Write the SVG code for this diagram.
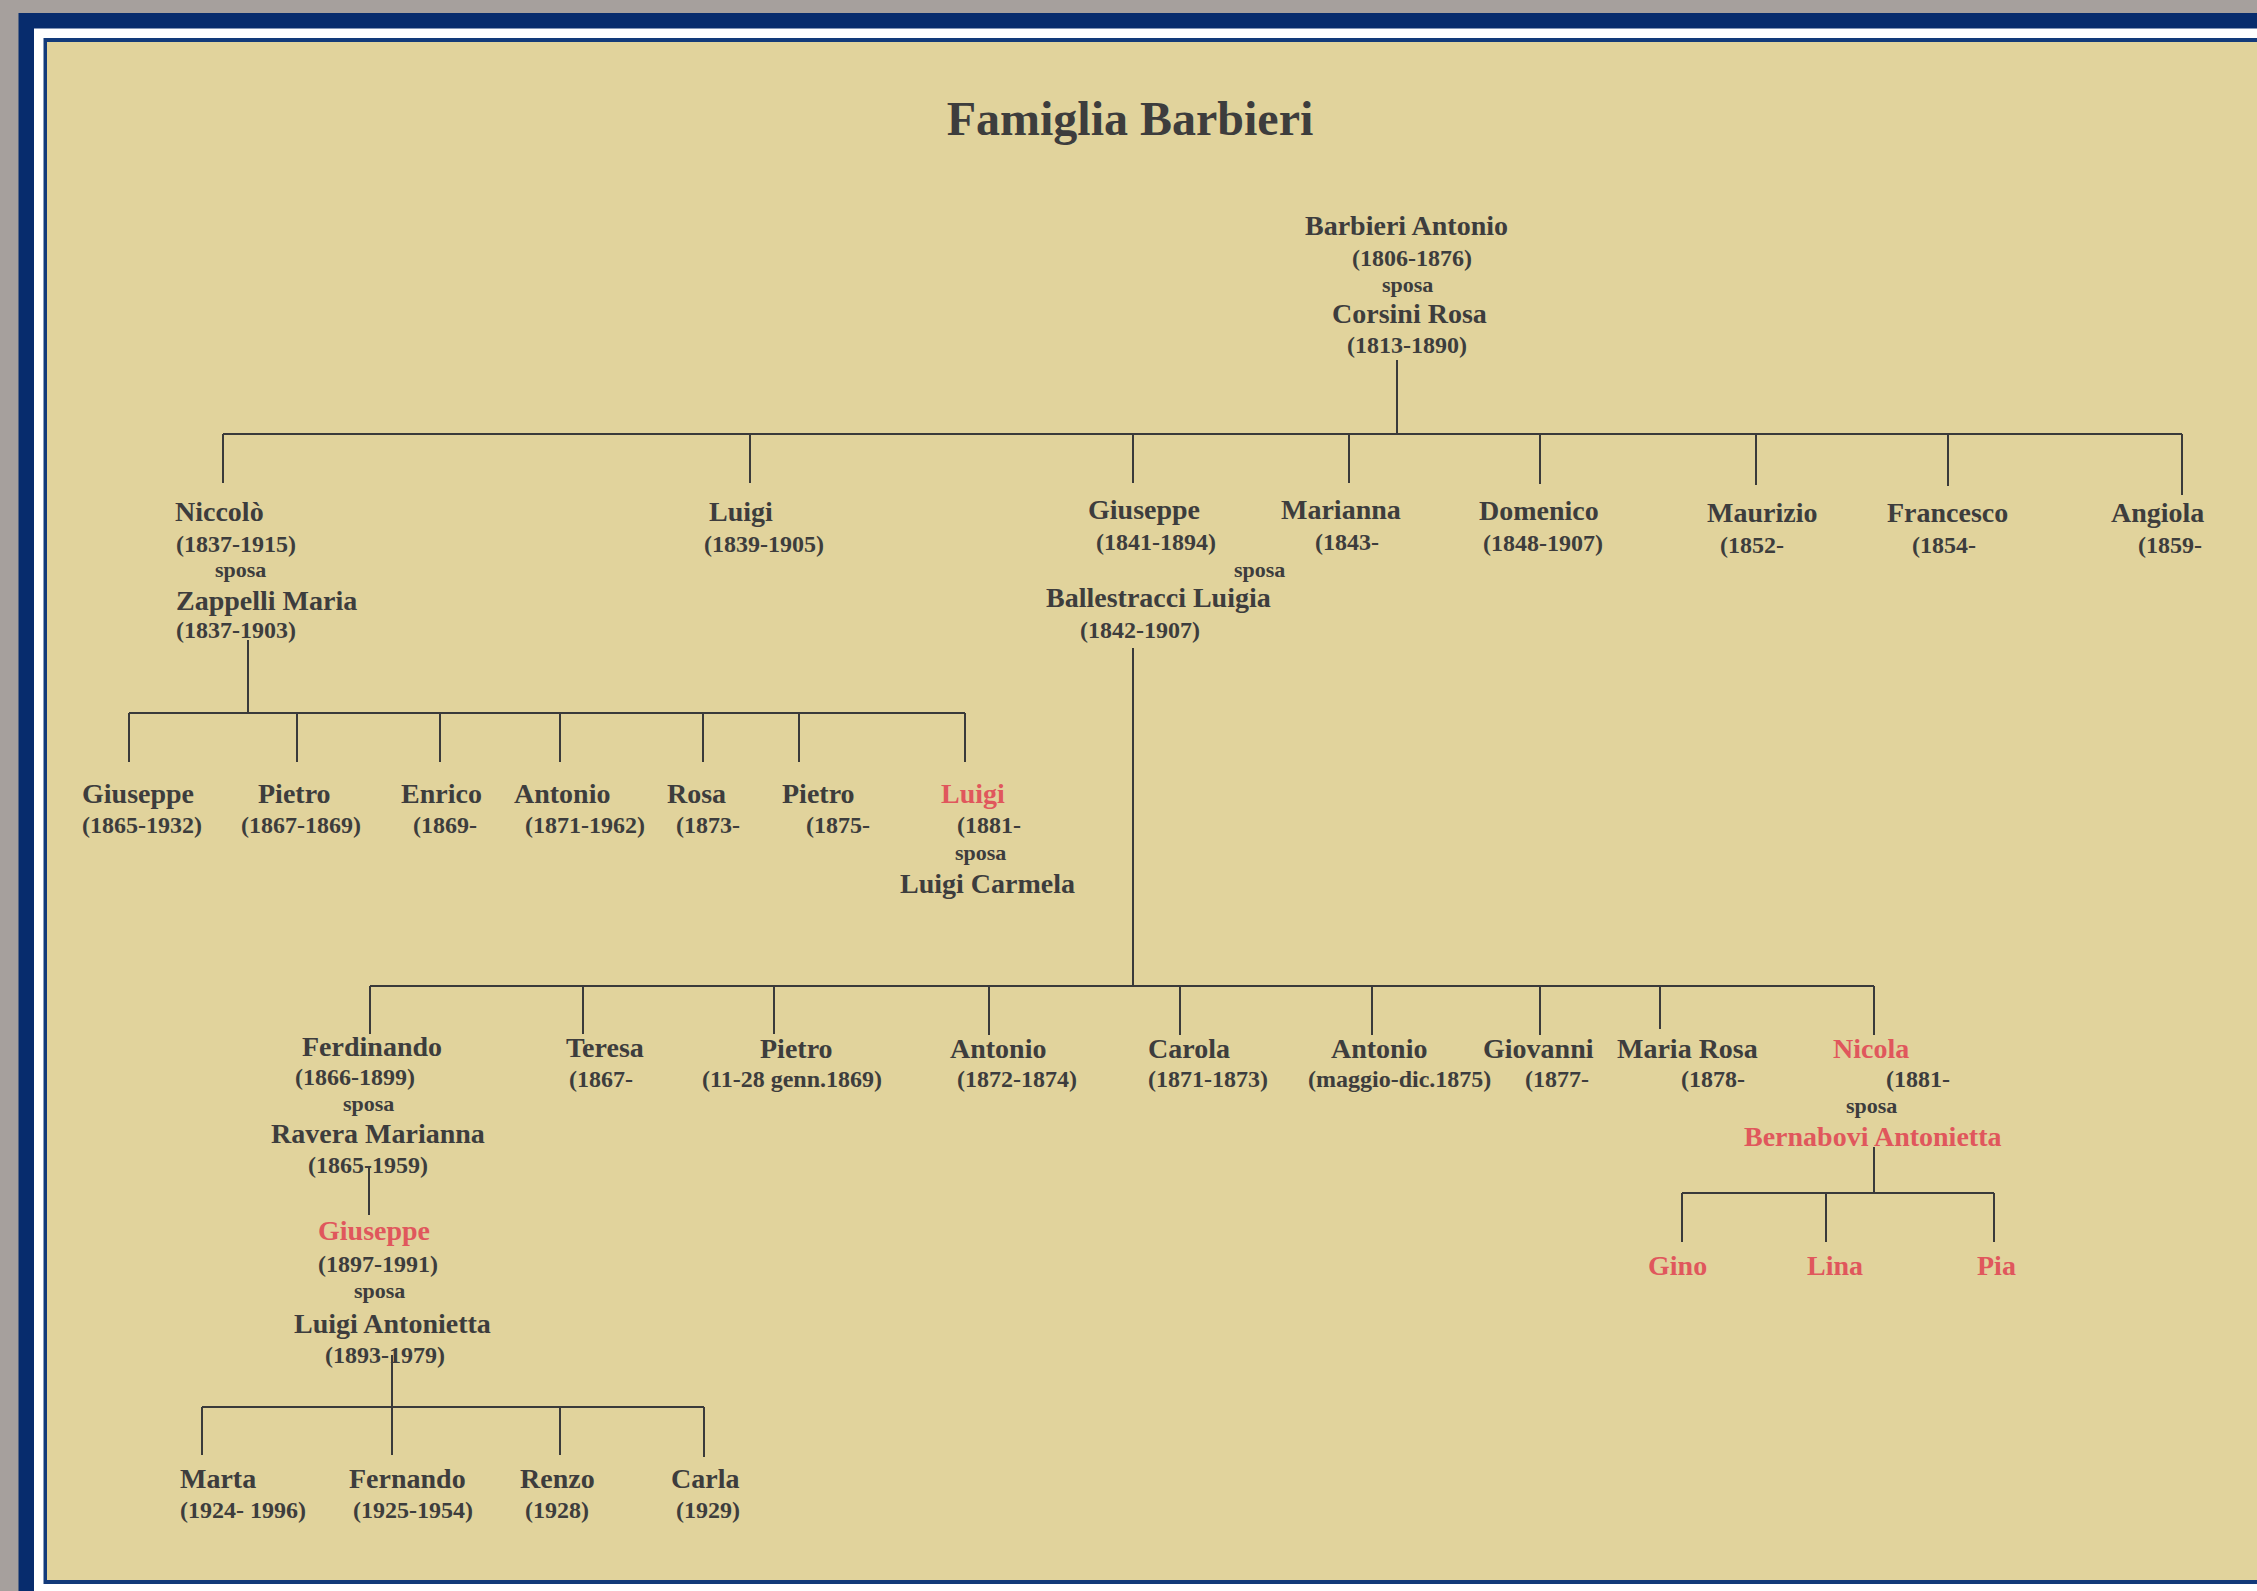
<svg xmlns="http://www.w3.org/2000/svg" width="2257" height="1591" viewBox="0 0 2257 1591">
<style>
text{font-family:"Liberation Serif","Times New Roman",serif;font-weight:bold;fill:#3d3d3d}
.t{font-size:48px}
.n{font-size:28px}
.d{font-size:24px}
.s{font-size:22px}
.r{fill:#e0575c}
.c{stroke:#3a3a3a;stroke-width:2;fill:none}
</style>
<rect x="0" y="0" width="2257" height="1591" fill="#a6a09d"/>
<rect x="18.5" y="13" width="2240" height="1580" fill="#072c6d"/>
<rect x="34" y="28.5" width="2230" height="1570" fill="#ffffff"/>
<rect x="43.5" y="38" width="2220" height="1546" fill="#123a7a"/>
<rect x="47" y="42" width="2215" height="1538" fill="#e1d39c"/>

<text class="t" x="1130" y="135" text-anchor="middle">Famiglia Barbieri</text>

<g id="connectors" class="c">
<path d="M1397 360V434"/>
<path d="M223 434H2182"/>
<path d="M223 434V483M750 434V483M1133 434V483M1349 434V483M1540 434V484M1756 434V485M1948 434V486M2182 434V495"/>
<path d="M248 640V713M129 713H965"/>
<path d="M129 713V762M297 713V762M440 713V762M560 713V762M703 713V762M799 713V762M965 713V762"/>
<path d="M1133 648V986M370 986H1874"/>
<path d="M370 986V1034M583 986V1034M774 986V1034M989 986V1035M1180 986V1035M1372 986V1035M1540 986V1035M1660 986V1029M1874 986V1035"/>
<path d="M369 1168V1215"/>
<path d="M392 1355V1455M202 1407H704M202 1407V1455M560 1407V1455M704 1407V1457"/>
<path d="M1874 1147V1193M1682 1193H1994M1682 1193V1242M1826 1193V1242M1994 1193V1242"/>
</g>

<g id="barbieri-antonio">
<text class="n" x="1305" y="235">Barbieri Antonio</text>
<text class="d" x="1352" y="266">(1806-1876)</text>
<text class="s" x="1382" y="292">sposa</text>
<text class="n" x="1332" y="323">Corsini Rosa</text>
<text class="d" x="1347" y="353">(1813-1890)</text>
</g>

<g id="niccolo">
<text class="n" x="175" y="521">Niccolò</text>
<text class="d" x="176" y="552">(1837-1915)</text>
<text class="s" x="215" y="577">sposa</text>
<text class="n" x="176" y="610">Zappelli Maria</text>
<text class="d" x="176" y="638">(1837-1903)</text>
</g>
<g id="luigi-1839">
<text class="n" x="709" y="521">Luigi</text>
<text class="d" x="704" y="552">(1839-1905)</text>
</g>
<g id="giuseppe-1841">
<text class="n" x="1088" y="519">Giuseppe</text>
<text class="d" x="1096" y="550">(1841-1894)</text>
<text class="s" x="1234" y="577">sposa</text>
<text class="n" x="1046" y="607">Ballestracci Luigia</text>
<text class="d" x="1080" y="638">(1842-1907)</text>
</g>
<g id="marianna">
<text class="n" x="1281" y="519">Marianna</text>
<text class="d" x="1315" y="550">(1843-</text>
</g>
<g id="domenico">
<text class="n" x="1479" y="520">Domenico</text>
<text class="d" x="1483" y="551">(1848-1907)</text>
</g>
<g id="maurizio">
<text class="n" x="1707" y="522">Maurizio</text>
<text class="d" x="1720" y="553">(1852-</text>
</g>
<g id="francesco">
<text class="n" x="1887" y="522">Francesco</text>
<text class="d" x="1912" y="553">(1854-</text>
</g>
<g id="angiola">
<text class="n" x="2111" y="522">Angiola</text>
<text class="d" x="2138" y="553">(1859-</text>
</g>

<g id="giuseppe-1865">
<text class="n" x="82" y="803">Giuseppe</text>
<text class="d" x="82" y="833">(1865-1932)</text>
</g>
<g id="pietro-1867">
<text class="n" x="258" y="803">Pietro</text>
<text class="d" x="241" y="833">(1867-1869)</text>
</g>
<g id="enrico">
<text class="n" x="401" y="803">Enrico</text>
<text class="d" x="413" y="833">(1869-</text>
</g>
<g id="antonio-1871">
<text class="n" x="514" y="803">Antonio</text>
<text class="d" x="525" y="833">(1871-1962)</text>
</g>
<g id="rosa">
<text class="n" x="667" y="803">Rosa</text>
<text class="d" x="676" y="833">(1873-</text>
</g>
<g id="pietro-1875">
<text class="n" x="782" y="803">Pietro</text>
<text class="d" x="806" y="833">(1875-</text>
</g>
<g id="luigi-1881">
<text class="n r" x="941" y="803">Luigi</text>
<text class="d" x="957" y="833">(1881-</text>
<text class="s" x="955" y="860">sposa</text>
<text class="n" x="900" y="893">Luigi Carmela</text>
</g>

<g id="ferdinando">
<text class="n" x="302" y="1056">Ferdinando</text>
<text class="d" x="295" y="1085">(1866-1899)</text>
<text class="s" x="343" y="1111">sposa</text>
<text class="n" x="271" y="1143">Ravera Marianna</text>
<text class="d" x="308" y="1173">(1865-1959)</text>
</g>
<g id="teresa">
<text class="n" x="566" y="1057">Teresa</text>
<text class="d" x="569" y="1087">(1867-</text>
</g>
<g id="pietro-1869">
<text class="n" x="760" y="1058">Pietro</text>
<text class="d" x="702" y="1087">(11-28 genn.1869)</text>
</g>
<g id="antonio-1872">
<text class="n" x="950" y="1058">Antonio</text>
<text class="d" x="957" y="1087">(1872-1874)</text>
</g>
<g id="carola">
<text class="n" x="1148" y="1058">Carola</text>
<text class="d" x="1148" y="1087">(1871-1873)</text>
</g>
<g id="antonio-1875">
<text class="n" x="1331" y="1058">Antonio</text>
<text class="d" x="1308" y="1087">(maggio-dic.1875)</text>
</g>
<g id="giovanni">
<text class="n" x="1483" y="1058">Giovanni</text>
<text class="d" x="1525" y="1087">(1877-</text>
</g>
<g id="maria-rosa">
<text class="n" x="1617" y="1058">Maria Rosa</text>
<text class="d" x="1681" y="1087">(1878-</text>
</g>
<g id="nicola">
<text class="n r" x="1833" y="1058">Nicola</text>
<text class="d" x="1886" y="1087">(1881-</text>
<text class="s" x="1846" y="1113">sposa</text>
<text class="n r" x="1744" y="1146">Bernabovi Antonietta</text>
</g>

<g id="giuseppe-1897">
<text class="n r" x="318" y="1240">Giuseppe</text>
<text class="d" x="318" y="1272">(1897-1991)</text>
<text class="s" x="354" y="1298">sposa</text>
<text class="n" x="294" y="1333">Luigi Antonietta</text>
<text class="d" x="325" y="1363">(1893-1979)</text>
</g>

<g id="marta">
<text class="n" x="180" y="1488">Marta</text>
<text class="d" x="180" y="1518">(1924- 1996)</text>
</g>
<g id="fernando">
<text class="n" x="349" y="1488">Fernando</text>
<text class="d" x="353" y="1518">(1925-1954)</text>
</g>
<g id="renzo">
<text class="n" x="520" y="1488">Renzo</text>
<text class="d" x="525" y="1518">(1928)</text>
</g>
<g id="carla">
<text class="n" x="671" y="1488">Carla</text>
<text class="d" x="676" y="1518">(1929)</text>
</g>

<g id="gino"><text class="n r" x="1648" y="1275">Gino</text></g>
<g id="lina"><text class="n r" x="1807" y="1275">Lina</text></g>
<g id="pia"><text class="n r" x="1977" y="1275">Pia</text></g>
</svg>
